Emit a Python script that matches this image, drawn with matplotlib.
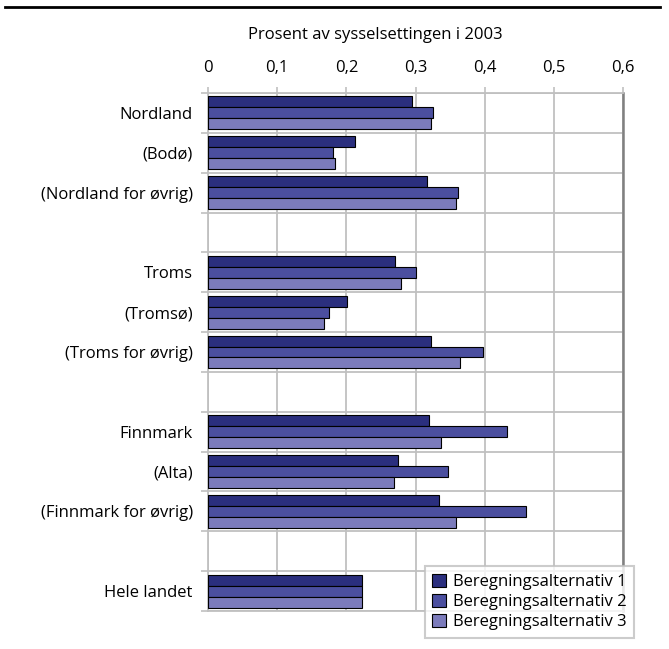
import numpy as np
import matplotlib
matplotlib.use('Agg')
import matplotlib.pyplot as plt
from matplotlib.lines import Line2D

# ============================== Data ==========================================
kategorier = ['Nordland', '(Bodø)', '(Nordland for øvrig)', '',
              'Troms', '(Tromsø)', '(Troms for øvrig)', '',
              'Finnmark', '(Alta)', '(Finnmark for øvrig)', '',
              'Hele landet']

alt1 = [0.295, 0.213, 0.316, None, 0.270, 0.201, 0.323, None,
        0.320, 0.275, 0.334, None, 0.223]
alt2 = [0.325, 0.180, 0.361, None, 0.301, 0.175, 0.398, None,
        0.433, 0.347, 0.460, None, 0.223]
alt3 = [0.323, 0.184, 0.358, None, 0.279, 0.167, 0.365, None,
        0.337, 0.269, 0.359, None, 0.223]

serier = ['Beregningsalternativ 1', 'Beregningsalternativ 2', 'Beregningsalternativ 3']
xticks = [0, 0.1, 0.2, 0.3, 0.4, 0.5, 0.6]
xticklabels = ['0', '0,1', '0,2', '0,3', '0,4', '0,5', '0,6']

# ============================== Style =========================================
plt.rcParams['font.family'] = ['Open Sans', 'DejaVu Sans']
plt.rcParams['font.size'] = 12
farger = ['#2b2f7e', '#4b4f9f', '#7b7bbb']
grid_c = '#c0c0c0'

fig = plt.figure(figsize=(6.69, 6.49), dpi=100)
ax = fig.add_axes([208/669, 1-611/649, (623-208)/669, (611-93)/649])

y = np.arange(len(kategorier))
h = 0.275
for k, (verdier, farge, navn) in enumerate(zip([alt1, alt2, alt3], farger, serier)):
    idx = [i for i, v in enumerate(verdier) if v is not None]
    vals = [verdier[i] for i in idx]
    ax.barh(y[idx] + (k - 1)*h, vals, height=h, color=farge,
            edgecolor='black', linewidth=0.8, label=navn, zorder=3)

ax.set_xlim(0, 0.6)
ax.set_ylim(len(kategorier) - 0.5, -0.5)

# x-akse oppe
ax.xaxis.tick_top()
ax.set_xticks(xticks)
ax.set_xticklabels(xticklabels)
ax.tick_params(axis='x', which='major', length=4, width=1.2, color=grid_c,
               pad=8, labelsize=12)
ax.grid(axis='x', color=grid_c, linewidth=1.3, zorder=0)

# y-akse: tekst midt i, streker/rutenett mellom
ax.set_yticks(y)
ax.set_yticklabels(kategorier)
ax.set_yticks(np.arange(len(kategorier) + 1) - 0.5, minor=True)
ax.tick_params(axis='y', which='major', length=0, pad=11, labelsize=12)
ax.tick_params(axis='y', which='minor', length=5, width=1.2, color=grid_c)
ax.grid(axis='y', which='minor', color=grid_c, linewidth=1.3, zorder=0)

for s in ['left', 'top', 'bottom']:
    ax.spines[s].set_color(grid_c)
    ax.spines[s].set_linewidth(1.3)
ax.spines['right'].set_color('#808080')
ax.spines['right'].set_linewidth(1.8)

fig.text(375/669, 1-35/649, 'Prosent av sysselsettingen i 2003',
         ha='center', va='center', fontsize=12)

# strek øverst
fig.add_artist(Line2D([5/669, 660/669], [1-7/649, 1-7/649],
                      color='black', linewidth=2.0))

leg = ax.legend(loc='lower right', bbox_to_anchor=(634/669, 1-638/649),
                bbox_transform=fig.transFigure, frameon=True, fancybox=False,
                handlelength=0.85, handleheight=0.85, handletextpad=0.4,
                labelspacing=0.22, borderpad=0.45, fontsize=12, borderaxespad=0)
leg.get_frame().set_edgecolor(grid_c)
leg.get_frame().set_linewidth(1.5)

plt.savefig('out.png', dpi=100)
